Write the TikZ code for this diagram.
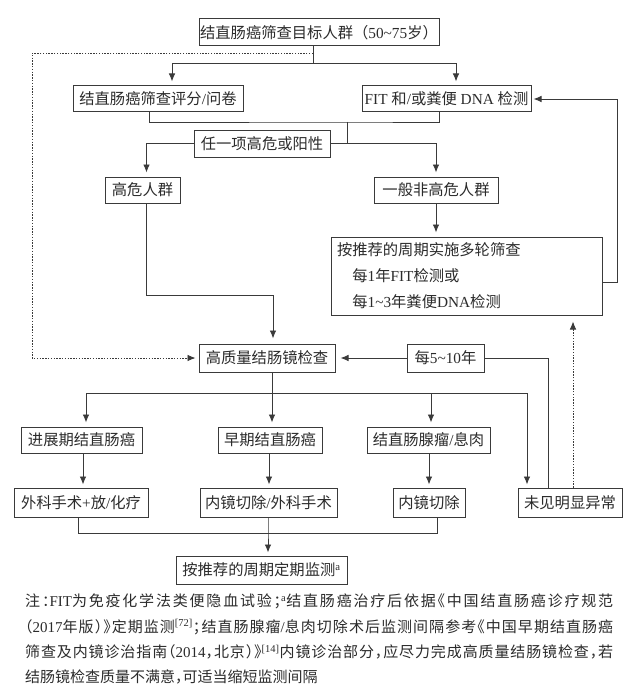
\documentclass[tikz,border=0pt]{standalone}
\usepackage{fontspec}
\setmainfont{Liberation Serif}
\newfontfamily\cjk{Noto Sans CJK SC}
\newfontfamily\cjkh{Noto Sans CJK SC}[RawFeature=+halt]
\usetikzlibrary{arrows.meta}
\XeTeXinterchartokenstate=1
\chardef\mycjk=10
\newcount\mycnt
\mycnt="3000
\loop\ifnum\mycnt<"A000 \XeTeXcharclass\mycnt=\mycjk \advance\mycnt by 1 \repeat
\mycnt="FF00
\loop\ifnum\mycnt<"FFF0 \XeTeXcharclass\mycnt=\mycjk \advance\mycnt by 1 \repeat
\XeTeXinterchartoks 0 \mycjk = {\cjk}
\XeTeXinterchartoks 4095 \mycjk = {\cjk}
\XeTeXinterchartoks \mycjk 0 = {\rmfamily}
\XeTeXinterchartoks \mycjk 4095 = {\rmfamily}
\newcommand\notefmt{\let\cjk\cjkh\XeTeXinterchartoks\mycjk\mycjk={\nobreak\hskip0pt plus 1.5pt minus 0.8pt}}
\definecolor{lc}{HTML}{3A3A3A}
\definecolor{tc}{HTML}{2B2B2B}
\tikzset{
  box/.style={draw=lc, line width=1pt, inner sep=0pt, text=tc,
    font=\fontsize{15.3}{18}\selectfont, align=center},
  conn/.style={draw=lc, line width=0.9pt},
  arr/.style={conn, -{Latex[length=8pt,width=6.5pt]}, shorten >=4pt},
  dotc/.style={draw=lc, line width=0.8pt, dash pattern=on 1.4pt off 1.4pt},
  dotarr/.style={dotc, -{Latex[length=8pt,width=6.5pt]}},
}
\begin{document}
\begin{tikzpicture}[x=1pt,y=-1pt]
\fill[white] (0,0) rectangle (640,690);
\useasboundingbox (0,0) rectangle (640,690);

% nodes
\node[box, minimum width=240pt, minimum height=27pt] (top) at (319,32.5) {结直肠癌筛查目标人群（50\textasciitilde 75岁）};
\node[box, minimum width=170pt, minimum height=26pt] (q) at (158,99) {结直肠癌筛查评分/问卷};
\node[box, minimum width=169pt, minimum height=26pt] (fit) at (446.5,99) {FIT 和/或粪便 DNA 检测};
\node[box, minimum width=136pt, minimum height=27pt] (ren) at (262,143.5) {任一项高危或阳性};
\node[box, minimum width=75pt, minimum height=26pt] (high) at (142.5,190) {高危人群};
\node[box, minimum width=124pt, minimum height=26pt] (gen) at (436,190) {一般非高危人群};
\node[box, minimum width=271pt, minimum height=78pt, text width=259pt, inner xsep=6pt,
  align=left, font=\fontsize{15.3}{26}\selectfont] (rec) at (466.5,276)
  {按推荐的周期实施多轮筛查\\\hspace*{1em}每1年FIT检测或\\\hspace*{1em}每1\textasciitilde 3年粪便DNA检测};
\node[box, minimum width=136pt, minimum height=28pt] (hq) at (267,358) {高质量结肠镜检查};
\node[box, minimum width=77pt, minimum height=28pt] (five) at (445.5,358) {每5\textasciitilde 10年};
\node[box, minimum width=121pt, minimum height=26pt] (adv) at (81.5,440) {进展期结直肠癌};
\node[box, minimum width=104pt, minimum height=26pt] (early) at (270,440) {早期结直肠癌};
\node[box, minimum width=123pt, minimum height=26pt] (aden) at (428.5,440) {结直肠腺瘤/息肉};
\node[box, minimum width=134pt, minimum height=29pt] (surg) at (81,502.5) {外科手术+放/化疗};
\node[box, minimum width=137pt, minimum height=29pt] (endo) at (268.5,502.5) {内镜切除/外科手术};
\node[box, minimum width=72pt, minimum height=29pt] (cut) at (429,502.5) {内镜切除};
\node[box, minimum width=104pt, minimum height=29pt] (none) at (570,502.5) {未见明显异常};
\node[box, minimum width=171pt, minimum height=28pt] (final) at (261.5,570) {按推荐的周期定期监测\textsuperscript{\rmfamily a}};

\node[anchor=north west, inner sep=0pt, text=tc, align=left,
  font=\fontsize{15}{25.2}\selectfont] (note) at (25,594)
  {\hbox to 588pt{\notefmt 注：FIT为免疫化学法类便隐血试验；\textsuperscript{\rmfamily a}结直肠癌治疗后依据《中国结直肠癌诊疗规范}\\%
   \hbox to 588pt{\notefmt （2017年版）》定期监测\textsuperscript{\rmfamily [72]}；结直肠腺瘤/息肉切除术后监测间隔参考《中国早期结直肠癌}\\%
   \hbox to 588pt{\notefmt 筛查及内镜诊治指南（2014，北京）》\textsuperscript{\rmfamily [14]}内镜诊治部分，应尽力完成高质量结肠镜检查，若}\\%
   \hbox{\notefmt 结肠镜检查质量不满意，可适当缩短监测间隔}};

% connectors
\coordinate (j1) at (313,63);
\coordinate (d1) at (313,53);
\coordinate (dl) at (32,53);
\draw[conn] (j1 |- top.south) -- (j1);
\draw[arr] (j1) -| ([xshift=14pt]q.north);
\draw[arr] (j1) -| ([xshift=9.5pt]fit.north);
\draw[dotarr, shorten >=3pt] (d1) -- (dl) |- (hq.west);

\coordinate (j2) at (347,122);
\draw[conn] ([xshift=-9pt]q.south) |- (j2) -| ([xshift=-7.5pt]fit.south);
\draw[conn] (j2) -- (j2 |- ren.east);
\draw[arr] (ren.east) -| (gen.north);
\draw[arr] (ren.west) -| ([xshift=4pt]high.north);
\draw[arr] (gen.south) -- (gen.south |- rec.north);

\coordinate (rr) at (617,99);
\draw[arr, shorten >=2pt] ([yshift=-6pt]rec.east) -| (rr) -- (fit.east);

\coordinate (j3) at (273,295);
\draw[arr, shorten >=5pt] ([xshift=4pt]high.south) |- (j3) -- (j3 |- hq.north);
\draw[arr, shorten >=5pt] (five.west) -- (hq.east);

\coordinate (j4) at (548,358);
\draw[conn] (five.east) -- (j4) -- (j4 |- none.north);
\coordinate (nt) at ([xshift=3pt]none.north);
\draw[dotarr, shorten >=6pt] (nt) -- (nt |- rec.south);

\coordinate (j5) at (272,393);
\draw[conn] ([xshift=5pt]hq.south) -- (j5);
\draw[arr] (j5) -| ([xshift=4.5pt]adv.north);
\draw[arr, shorten >=3pt] (j5) -| ([xshift=-43pt]none.north);
\draw[arr] (j5) -- (j5 |- early.north);
\coordinate (an) at ([xshift=2.5pt]aden.north);
\draw[arr] (an |- j5) -- (an);

\coordinate (a1) at ([xshift=1.5pt]adv.south);
\coordinate (a2) at ([xshift=-1pt]early.south);
\coordinate (a3) at ([xshift=0.5pt]aden.south);
\draw[arr, shorten >=3pt] (a1) -- (a1 |- surg.north);
\draw[arr, shorten >=3pt] (a2) -- (a2 |- endo.north);
\draw[arr, shorten >=3pt] (a3) -- (a3 |- cut.north);

\coordinate (j6) at (268,533);
\draw[conn] ([xshift=-3pt]surg.south) |- (j6);
\draw[conn] ([xshift=8pt]cut.south) |- (j6);
\draw[arr, shorten >=3pt] (j6 |- endo.south) -- (j6) -- (j6 |- final.north);
\end{tikzpicture}
\end{document}
